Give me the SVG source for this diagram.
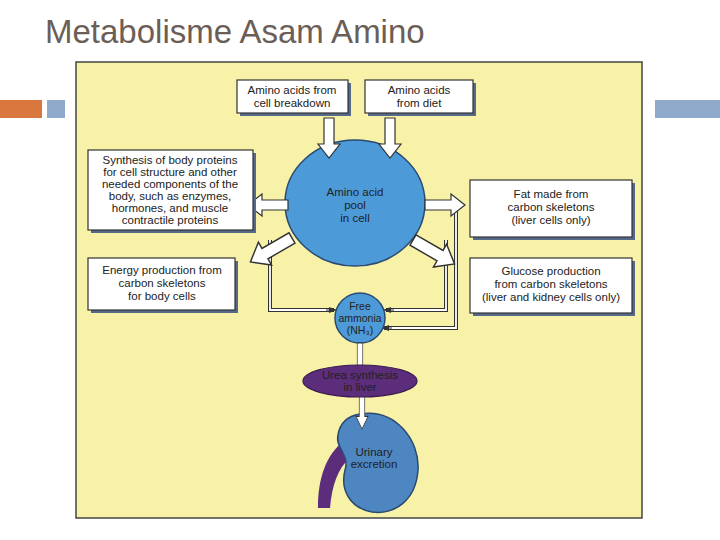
<svg xmlns="http://www.w3.org/2000/svg" width="720" height="540" viewBox="0 0 720 540">
<style>
.t{font-family:"Liberation Sans",Arial,sans-serif;font-size:11.5px;fill:#222;text-anchor:middle}
.s{font-size:10.5px}
.box{fill:#fff;stroke:#333;stroke-width:1.2}
.sh{fill:#556a8a}
.ha{fill:#fff;stroke:#333;stroke-width:1.2;stroke-linejoin:miter}
.dl{fill:none;stroke:#333;stroke-width:4}
.dw{fill:none;stroke:#fff;stroke-width:1.8}
</style>
<defs>
<marker id="ah" markerWidth="8" markerHeight="8" refX="7" refY="4" orient="auto" markerUnits="userSpaceOnUse"><path d="M0,1 L8,4 L0,7 Z" fill="#333"/></marker>
<polygon id="harrow" points="0,-5 26,-5 26,-11 40,0 26,11 26,5 0,5" class="ha"/>
</defs>
<rect width="720" height="540" fill="#fff"/>
<text x="45" y="43" font-family="Liberation Sans,Arial,sans-serif" font-size="33" fill="#6b5e57">Metabolisme Asam Amino</text>
<rect x="0" y="100" width="42" height="18" fill="#d9773f"/>
<rect x="47" y="100" width="18" height="18" fill="#8ea9c9"/>
<rect x="655" y="100" width="65" height="18" fill="#8ea9c9"/>
<rect x="76" y="62" width="566" height="456" fill="#f8f1a8" stroke="#444" stroke-width="1.5"/>
<g id="connectors">
<path class="dl" d="M270,240 V310 H334"/><path class="dw" d="M270,240 V310 H334"/>
<path class="dl" d="M446,240 V310 H386"/><path class="dw" d="M446,240 V310 H386"/>
<path class="dl" d="M456,205 V328 H384"/><path class="dw" d="M456,205 V328 H384"/>
<path d="M326,310 H336" stroke="#333" stroke-width="1" marker-end="url(#ah)"/>
<path d="M394,310 H384" stroke="#333" stroke-width="1" marker-end="url(#ah)"/>
<path d="M392,328 H382" stroke="#333" stroke-width="1" marker-end="url(#ah)"/>
</g>
<g id="pool"><ellipse cx="355" cy="203" rx="70" ry="63" fill="#4d9ad8" stroke="#2a4a70" stroke-width="1.5"/>
<text class="t" x="355" y="196">Amino acid</text><text class="t" x="355" y="209">pool</text><text class="t" x="355" y="222">in cell</text></g>
<g id="arrows">
<use href="#harrow" transform="translate(329,118) rotate(90)"/>
<use href="#harrow" transform="translate(390,118) rotate(90)"/>
<use href="#harrow" transform="translate(288,205) rotate(180)"/>
<use href="#harrow" transform="translate(425,205)"/>
<use href="#harrow" transform="translate(292,238) scale(1.2) rotate(150)"/>
<use href="#harrow" transform="translate(413,240) scale(1.2) rotate(30)"/>
</g>
<g id="b1"><rect class="sh" x="240" y="83" width="111" height="33"/><rect class="box" x="237" y="80" width="111" height="33"/>
<text class="t" x="292" y="94">Amino acids from</text><text class="t" x="292" y="107">cell breakdown</text></g>
<g id="b2"><rect class="sh" x="368" y="83" width="108" height="33"/><rect class="box" x="365" y="80" width="108" height="33"/>
<text class="t" x="419" y="94">Amino acids</text><text class="t" x="419" y="107">from diet</text></g>
<g id="b3"><rect class="sh" x="91" y="153" width="165" height="80"/><rect class="box" x="88" y="150" width="165" height="80"/>
<text class="t" x="170" y="164">Synthesis of body proteins</text><text class="t" x="170" y="176">for cell structure and other</text><text class="t" x="170" y="188">needed components of the</text><text class="t" x="170" y="200">body, such as enzymes,</text><text class="t" x="170" y="212">hormones, and muscle</text><text class="t" x="170" y="224">contractile proteins</text></g>
<g id="b4"><rect class="sh" x="473" y="183" width="162" height="57"/><rect class="box" x="470" y="180" width="162" height="57"/>
<text class="t" x="551" y="198">Fat made from</text><text class="t" x="551" y="211">carbon skeletons</text><text class="t" x="551" y="224">(liver cells only)</text></g>
<g id="b5"><rect class="sh" x="91" y="261" width="147" height="52"/><rect class="box" x="88" y="258" width="147" height="52"/>
<text class="t" x="162" y="274">Energy production from</text><text class="t" x="162" y="287">carbon skeletons</text><text class="t" x="162" y="300">for body cells</text></g>
<g id="b6"><rect class="sh" x="473" y="261" width="162" height="55"/><rect class="box" x="470" y="258" width="162" height="55"/>
<text class="t" x="551" y="275">Glucose production</text><text class="t" x="551" y="288">from carbon skeletons</text><text class="t" x="551" y="301">(liver and kidney cells only)</text></g>
<g id="kidney">
<path d="M345,440 C325,455 318,480 318,508 L330,508 C332,485 338,468 350,458 Z" fill="#5c2d7a"/>
<path d="M360,414 C395,408 420,440 418,470 C416,500 395,515 372,512 C350,508 340,490 345,470 C350,455 335,448 338,435 C340,422 348,416 360,414 Z" fill="#4d86c0" stroke="#2a4a70" stroke-width="1.5"/>
<text class="t" x="374" y="456">Urinary</text><text class="t" x="374" y="468">excretion</text></g>
<g id="ammonia"><circle cx="360" cy="318" r="25" fill="#4d9ad8" stroke="#2a4a70" stroke-width="1.5"/>
<text class="t s" x="360" y="310">Free</text><text class="t s" x="360" y="322">ammonia</text><text class="t s" x="360" y="334">(NH₃)</text></g>
<g id="arrows2">
<use href="#harrow" transform="translate(360,343) scale(0.55,0.9) rotate(90)"/>
<use href="#harrow" transform="translate(362,393) scale(0.55,0.9) rotate(90)"/>
</g>
<g id="urea"><ellipse cx="360" cy="381" rx="57" ry="16" fill="#5c2d7a" stroke="#3a1a50" stroke-width="1.2"/>
<text class="t" x="360" y="379" fill="#2a1040">Urea synthesis</text><text class="t" x="360" y="391" fill="#2a1040">in liver</text></g>
</svg>
